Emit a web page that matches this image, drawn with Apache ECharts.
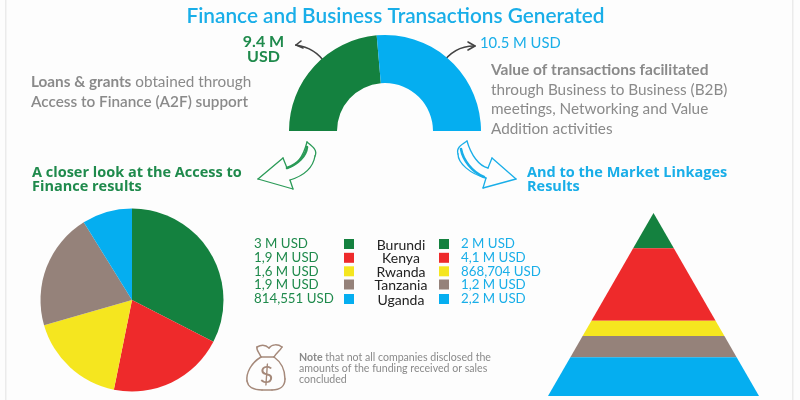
<!DOCTYPE html>
<html><head><meta charset="utf-8">
<style>html,body{margin:0;padding:0;background:#fdfdfd}#c{width:800px;height:400px}</style>
<script src="https://cdn.jsdelivr.net/npm/echarts@6/dist/echarts.min.js"></script>
</head><body><div id="c"></div>
<script>
const countries = ['Burundi','Kenya','Rwanda','Tanzania','Uganda'];
const colors = ['#14813f','#ee2a2b','#f5e61f','#95827a','#05aef0'];
const a2fValues = [3, 1.9, 1.6, 1.9, 0.814551];
const a2fLabels = ['3 M USD','1,9 M USD','1,6 M USD','1,9 M USD','814,551 USD'];
const marketValues = [2, 4.1, 0.868704, 1.2, 2.2];
const marketLabels = ['2 M USD','4,1 M USD','868,704 USD','1,2 M USD','2,2 M USD'];
const totalNames = ['Access to Finance','Market Linkages'];
const totalValues = [9.4, 10.5];
const GREEN='#1f8a4c', BLUE='#19aee8', GREY='#8a8a8a';
const F='Lato, sans-serif';

function txt(x,y,t,o){return {type:'text',x,y,silent:true,style:Object.assign({text:t,fontFamily:F,fontSize:14,fill:GREY,textVerticalAlign:'middle'},o||{})};}
function rich(x,y,t,size){return {type:'text',x,y,silent:true,style:{text:t,fontFamily:F,fontSize:size,fill:GREY,textVerticalAlign:'middle',
  rich:{b:{fontFamily:F,fontSize:size,fontWeight:700,fill:GREY},n:{fontFamily:F,fontSize:size,fill:GREY}}}};}
// Decorative strokes: small M/L/C path strings turned into graphic line and bezier elements.
function line(d,c,w){
  const st={fill:'none',stroke:c,lineWidth:w,lineCap:'round'};
  const out=[];let px=0,py=0;
  (d.match(/[MLC][^MLC]*/g)||[]).forEach(s=>{
    const n=s.slice(1).trim().split(/[\s,]+/).map(Number);
    if(s[0]==='M'){px=n[0];py=n[1];}
    else if(s[0]==='L'){out.push({type:'line',silent:true,shape:{x1:px,y1:py,x2:n[0],y2:n[1]},style:st});px=n[0];py=n[1];}
    else {out.push({type:'bezierCurve',silent:true,shape:{x1:px,y1:py,cpx1:n[0],cpy1:n[1],cpx2:n[2],cpy2:n[3],x2:n[4],y2:n[5]},style:st});px=n[4];py=n[5];}
  });
  return out;
}

const graphics=[
 {type:'rect',silent:true,shape:{x:5,y:0,width:1.5,height:400},style:{fill:'#ebebeb'}},
 {type:'rect',silent:true,shape:{x:792,y:0,width:1.5,height:400},style:{fill:'#ebebeb'}},
 txt(395.5,16,'Finance and Business Transactions Generated',{fontSize:20.8,fontWeight:600,fill:BLUE,textAlign:'center'}),
 txt(263.5,41.5,'9.4 M',{fontSize:16,fontWeight:700,fill:GREEN,textAlign:'center'}),
 txt(263.5,57,'USD',{fontSize:16,fontWeight:700,fill:GREEN,textAlign:'center'}),
 txt(480,43,'10.5 M USD',{fontSize:14.8,fill:BLUE}),
 rich(31,82,'{b|Loans & grants} {n|obtained through}',15.3),
 txt(31,102,'Access to Finance (A2F) support',{fontSize:15.3,fontWeight:600}),
 txt(491,70,'Value of transactions facilitated',{fontSize:15.5,fontWeight:700}),
 txt(491,90,'through Business to Business (B2B)',{fontSize:15.3}),
 txt(491,109,'meetings, Networking and Value',{fontSize:15.3}),
 txt(491,129,'Addition activities',{fontSize:15.3}),
 txt(32,172.5,'A closer look at the Access to',{fontFamily:'Open Sans',fontSize:14.5,fontWeight:700,fill:GREEN}),
 txt(32,186.5,'Finance results',{fontFamily:'Open Sans',fontSize:14.5,fontWeight:700,fill:GREEN}),
 txt(527,172.5,'And to the Market Linkages',{fontFamily:'Open Sans',fontSize:14.5,fontWeight:700,fill:BLUE}),
 txt(527,186.5,'Results',{fontFamily:'Open Sans',fontSize:14.5,fontWeight:700,fill:BLUE}),
 ...line('M325 63 C318 52 309 47 296 45','#444',1.6),
 ...line('M301 41 L296 45 L303 48','#444',1.6),
 ...line('M441 65 C449 53 459 46 474 46','#444',1.6),
 ...line('M468 42 L475 46 L468 50','#444',1.6),
 ...line('M307 142 C312 146 318 150 315 156 C313 168 303 176 290 180 L293 189 L258 179 L283 158 L287 168 C296 166 303 158 307 142','#2a9a57',1.3),
 ...line('M307 147 C306 156 298 164 287 168','#2a9a57',2.6),
 ...line('M467 141 C461 145 456 148 458 154 C458 163 470 174 486 178 L483 188 L516 179 L492 158 L488 168 C479 166 471 155 467 141','#19aee8',1.3),
 ...line('M461 149 C463 160 472 172 484 177','#19aee8',2.6),
 rich(299,358,'{b|Note} {n|that not all companies disclosed the}',10.6),
 txt(299,369,'amounts of the funding received or sales',{fontSize:10.6}),
 txt(299,380,'concluded',{fontSize:10.6}),
 ...line('M261 357 C251 363 246 373 247 381 C248 387 254 390 262 390 L272 390 C280 390 285 386 285 379 C285 370 281 362 274 357 L261 357 C259 352 256 350 257 347 C262 344 266 345 269 348 C272 344 278 344 282 347 C280 351 276 353 274 357','#a5897a',1.5),
 txt(266.5,375,'$',{fontSize:24,fill:'#a5897a',textAlign:'center'})
];
const rowY=[244,257.8,271.3,284.5,299];
countries.forEach((n,i)=>{
  const y=rowY[i];
  graphics.push(txt(254,y,a2fLabels[i],{fontSize:13.3,fill:GREEN}));
  graphics.push({type:'rect',silent:true,shape:{x:344,y:y-5,width:10,height:10},style:{fill:colors[i]}});
  graphics.push(txt(401,y+1,n,{fontSize:14,fill:'#222',textAlign:'center'}));
  graphics.push({type:'rect',silent:true,shape:{x:439,y:y-5,width:10,height:10},style:{fill:colors[i]}});
  graphics.push(txt(461,y,marketLabels[i],{fontSize:13.3,fill:BLUE}));
});

const total=marketValues.reduce((a,b)=>a+b,0);
let cum=0;
const pyramid=marketValues.map((v,i)=>{const r=[cum,cum+v,i];cum+=v;return r;});

const chart=echarts.init(document.getElementById('c'),null,{renderer:'canvas'});
chart.setOption({
 animation:false,
 backgroundColor:'#fdfdfd',
 grid:{left:548,top:213,width:211,height:183},
 xAxis:{type:'value',min:-1,max:1,show:false},
 yAxis:{type:'value',min:0,max:total,inverse:true,show:false},
 graphic:graphics,
 series:[
  {type:'pie',center:[385,131],radius:[48,96],startAngle:180,endAngle:0,silent:true,label:{show:false},labelLine:{show:false},
   data:totalValues.map((v,i)=>({name:totalNames[i],value:v,itemStyle:{color:i?'#05aef0':'#14813f'}}))},
  {type:'pie',center:[132,300],radius:91.5,startAngle:90,silent:true,label:{show:false},labelLine:{show:false},
   data:countries.map((n,i)=>({name:n,value:a2fValues[i],itemStyle:{color:colors[i]}}))},
  {type:'custom',coordinateSystem:'cartesian2d',silent:true,data:pyramid,encode:{y:[0,1]},
   renderItem:(p,api)=>{
     const a=api.value(0),b=api.value(1),i=api.value(2);
     const wa=a/total,wb=b/total;
     const pts=[[-wa,a],[wa,a],[wb,b],[-wb,b]].map(q=>api.coord(q));
     return {type:'polygon',shape:{points:pts},style:{fill:colors[i]}};
   }}
 ]
});
</script></body></html>
